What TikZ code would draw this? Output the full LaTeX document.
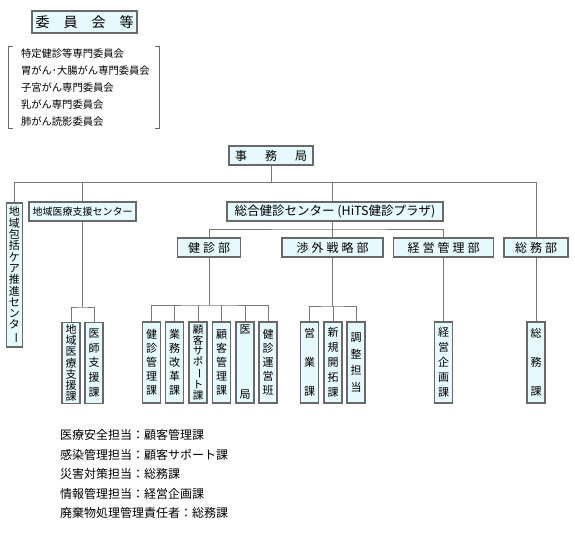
\documentclass[tikz,border=0pt]{standalone}
\usepackage{fontspec}
\setmainfont{Noto Sans CJK JP}
\usetikzlibrary{positioning,calc}
\definecolor{boxfill}{RGB}{230,249,252}
\definecolor{boxline}{RGB}{105,105,105}
\definecolor{wireclr}{RGB}{120,120,120}
\newcommand{\tatebo}{\rotatebox[origin=c]{-90}{ー}}

\begin{document}
\begin{tikzpicture}[
  x=1pt,y=-1pt,
  hbox/.style={
    draw=boxline,
    fill=boxfill,
    line width=1.3pt,
    inner sep=0pt,
    minimum height=19pt,
    font=\fontsize{12}{14}\selectfont
  },
  vbox/.style={
    draw=boxline,
    fill=boxfill,
    line width=1.3pt,
    inner sep=0pt,
    minimum width=18pt,
    minimum height=81pt,
    align=center,
    font=\fontsize{11}{14}\selectfont
  },
  wire/.style={
    draw=wireclr,
    line width=1pt
  },
  note/.style={
    anchor=west,
    align=left,
    inner sep=0pt,
    font=\fontsize{12}{19.5}\selectfont
  }
]
\useasboundingbox (0,0) rectangle (575,556);

% Committees
\node[hbox,minimum width=105pt,minimum height=22pt,font=\fontsize{14}{16}\selectfont]
  (iinkai) at (84.5,22) {委\hspace{14pt}員\hspace{14pt}会\hspace{14pt}等};
\node[inner sep=0pt,minimum width=150pt,minimum height=81pt,
  text width=126pt,align=left,font=\fontsize{10.3}{16.8}\selectfont]
  (iinlist) at (84,87.5) {特定健診等専門委員会\\胃がん･大腸がん専門委員会\\子宮がん専門委員会\\乳がん専門委員会\\肺がん読影委員会};
\draw[wire,draw=boxline]
  ([xshift=4pt]iinlist.north west) -- (iinlist.north west)
  -- (iinlist.south west) -- ([xshift=4pt]iinlist.south west);
\draw[wire,draw=boxline]
  ([xshift=-4pt]iinlist.north east) -- (iinlist.north east)
  -- (iinlist.south east) -- ([xshift=-4pt]iinlist.south east);

% Top level
\node[hbox,minimum width=84pt] (jimu) at (271,155.5) {事\hspace{18pt}務\hspace{18pt}局};
\node[vbox,minimum width=16pt,minimum height=144pt,font=\fontsize{11}{11.3}\selectfont]
  (hokatsu) at (14.5,275) {地\\域\\包\\括\\ケ\\ア\\推\\進\\セ\\ン\\タ\\\tatebo};
\node[hbox,minimum width=107pt,font=\fontsize{10}{12}\selectfont]
  (chiikiC) at (82.5,211.5) {地域医療支援センター};
\node[hbox,minimum width=216pt,font=\fontsize{12.5}{14}\selectfont]
  (sogo) at (335,211.5) {総合健診センター (HiTS健診プラザ)};

% Departments
\node[hbox,minimum width=63pt] (kenshin) at (209,247.5) {健\hspace{3pt}診\hspace{3pt}部};
\node[hbox,minimum width=101pt] (shogai) at (332.5,247.5) {渉\hspace{3pt}外\hspace{3pt}戦\hspace{3pt}略\hspace{3pt}部};
\node[hbox,minimum width=100pt] (keiei) at (443.5,247.5) {経\hspace{3pt}営\hspace{3pt}管\hspace{3pt}理\hspace{3pt}部};
\node[hbox,minimum width=64pt] (somu) at (536,247.5) {総\hspace{3pt}務\hspace{3pt}部};

% Sections
\node[vbox,font=\fontsize{11}{11.2}\selectfont] (chiikiK) at (71,363) {地\\域\\医\\療\\支\\援\\課};
\node[vbox,font=\fontsize{11}{14.7}\selectfont] (ishi) at (94,363) {医\\師\\支\\援\\課};
\node[vbox] (kanri) at (151.5,362.5) {健\\診\\管\\理\\課};
\node[vbox] (gyomu) at (174.5,362.5) {業\\務\\改\\革\\課};
\node[vbox,font=\fontsize{10.5}{10.7}\selectfont] (support) at (198,362.5) {顧\\客\\サ\\ポ\\\tatebo\\ト\\課};
\node[vbox] (kokyaku) at (221.5,362.5) {顧\\客\\管\\理\\課};
\node[vbox,font=\fontsize{11}{65}\selectfont] (ikyoku) at (245,362.5) {医\\局};
\node[vbox] (unei) at (268,362.5) {健\\診\\運\\営\\班};
\node[vbox,font=\fontsize{11}{29}\selectfont] (eigyo) at (309.5,362.5) {営\\業\\課};
\node[vbox,font=\fontsize{11}{15}\selectfont] (shinki) at (333,362.5) {新\\規\\開\\拓\\課};
\node[vbox,font=\fontsize{11}{16.7}\selectfont] (chosei) at (356,362.5) {調\\整\\担\\当};
\node[vbox,font=\fontsize{11}{15}\selectfont] (kikaku) at (443.5,362.5) {経\\営\\企\\画\\課};
\node[vbox,font=\fontsize{11}{29}\selectfont] (somuka) at (536,362.5) {総\\務\\課};

% Bus points
\coordinate (bus1) at (271,183);
\coordinate (bus2) at (332.5,229);
\coordinate (bus3) at (209,305);
\coordinate (bus4) at (82.5,307);
\coordinate (bus5) at (332.5,306);

% Office to centres
\draw[wire] (jimu.south) -- (bus1);
\draw[wire] (hokatsu.north) -- (hokatsu.north |- bus1) -- (somu.north |- bus1) -- (somu.north);
\draw[wire] (chiikiC.north |- bus1) -- (chiikiC.north);
\draw[wire] (shogai.north |- bus1) -- (shogai.north |- sogo.north);

% Centre to departments
\draw[wire] (shogai.north |- sogo.south) -- (shogai.north);
\draw[wire] (kenshin.north) |- (bus2) -| (keiei.north);

% Departments to sections
\draw[wire] (chiikiC.south) -- (bus4);
\draw[wire] (chiikiK.north) |- (bus4) -| (ishi.north);
\draw[wire] (kenshin.south) -- (bus3);
\draw[wire] (kanri.north) |- (bus3) -| (unei.north);
\draw[wire] (gyomu.north) -- (gyomu.north |- bus3);
\draw[wire] (support.north) -- (support.north |- bus3);
\draw[wire] (kokyaku.north) -- (kokyaku.north |- bus3);
\draw[wire] (ikyoku.north) -- (ikyoku.north |- bus3);
\draw[wire] (shogai.south) -- (bus5);
\draw[wire] (eigyo.north) |- (bus5) -| (chosei.north);
\draw[wire] (shinki.north) -- (shinki.north |- bus5);
\draw[wire] (keiei.south) -- (kikaku.north);
\draw[wire] (somu.south) -- (somuka.north);

% Duty notes
\node[note] (duty) at (60,474) {医療安全担当：顧客管理課\\感染管理担当：顧客サポート課\\災害対策担当：総務課\\情報管理担当：経営企画課\\廃棄物処理管理責任者：総務課};

\end{tikzpicture}
\end{document}
